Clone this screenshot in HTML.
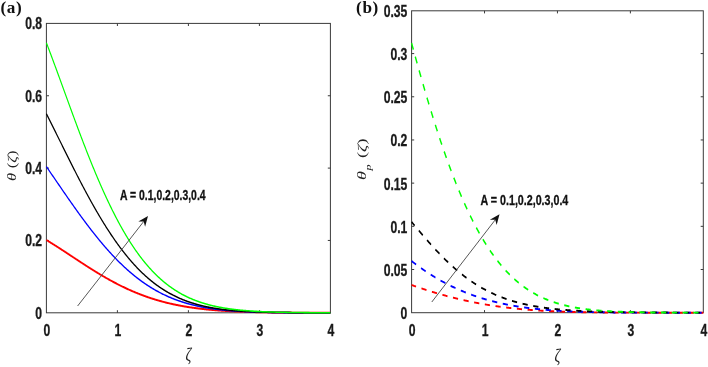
<!DOCTYPE html>
<html><head><meta charset="utf-8"><style>
html,body{margin:0;padding:0;background:#fff;}
body{width:708px;height:367px;overflow:hidden;position:relative;}
svg{position:absolute;left:0;top:0;}
.tk{font-family:"Liberation Sans",Arial,sans-serif;font-weight:bold;font-size:15.6px;fill:#1a1a1a;stroke:#1a1a1a;stroke-width:0.3px;}
.pl{font-family:"Liberation Serif","Times New Roman",serif;font-weight:bold;font-size:17.2px;letter-spacing:0.6px;fill:#111;}
.ann{font-family:"Liberation Sans",Arial,sans-serif;font-weight:bold;font-size:14.1px;fill:#111;stroke:#111;stroke-width:0.3px;}
.sym{font-family:"Liberation Serif","DejaVu Serif",serif;fill:#222;}
.zeta{font-family:"Liberation Serif","DejaVu Serif",serif;font-size:18px;fill:#222;}
</style></head><body>
<svg width="708" height="367" viewBox="0 0 708 367">
<rect width="708" height="367" fill="#fff"/>
<!-- panel a -->
<rect x="46.4" y="23.4" width="284.00" height="289.40" fill="none" stroke="#3a3a3a" stroke-width="1"/>
<path d="M117.40,312.8 v-2.6 M117.40,23.4 v2.6 M188.40,312.8 v-2.6 M188.40,23.4 v2.6 M259.40,312.8 v-2.6 M259.40,23.4 v2.6 M46.4,240.45 h2.6 M330.4,240.45 h-2.6 M46.4,168.10 h2.6 M330.4,168.10 h-2.6 M46.4,95.75 h2.6 M330.4,95.75 h-2.6" stroke="#3a3a3a" stroke-width="1" fill="none"/>
<g transform="translate(46.4,0) scale(0.735,1) translate(-46.4,0)" fill="none" stroke-linejoin="round" stroke-linecap="butt" stroke-width="1.55">
<path d="M46.40,240.06 L47.08,240.36 L47.76,240.66 L48.44,240.96 L49.12,241.26 L49.80,241.57 L50.48,241.87 L51.16,242.18 L51.84,242.49 L52.52,242.80 L53.20,243.11 L53.88,243.42 L54.56,243.73 L55.24,244.04 L55.92,244.35 L56.60,244.67 L57.28,244.98 L57.96,245.30 L58.64,245.62 L59.33,245.94 L60.01,246.25 L60.69,246.57 L61.37,246.89 L62.05,247.22 L62.73,247.54 L63.41,247.86 L64.09,248.18 L64.77,248.51 L65.45,248.83 L66.13,249.15 L66.81,249.48 L67.49,249.81 L68.17,250.13 L68.85,250.46 L69.53,250.79 L70.21,251.11 L70.89,251.44 L71.57,251.77 L72.25,252.10 L72.93,252.43 L73.61,252.76 L74.29,253.08 L74.97,253.41 L75.65,253.74 L76.33,254.07 L77.01,254.40 L77.69,254.73 L78.37,255.07 L79.05,255.40 L79.73,255.73 L80.41,256.06 L81.09,256.39 L81.77,256.72 L82.45,257.05 L83.13,257.38 L83.81,257.71 L84.50,258.04 L85.18,258.37 L85.86,258.70 L86.54,259.03 L87.22,259.36 L87.90,259.69 L88.58,260.02 L89.26,260.35 L89.94,260.68 L90.62,261.01 L91.30,261.33 L91.98,261.66 L92.66,261.99 L93.34,262.32 L94.02,262.64 L94.70,262.97 L95.38,263.30 L96.06,263.62 L96.74,263.95 L97.42,264.27 L98.10,264.59 L98.78,264.92 L99.46,265.24 L100.14,265.56 L100.82,265.89 L101.50,266.21 L102.18,266.53 L102.86,266.85 L103.54,267.17 L104.22,267.49 L104.90,267.80 L105.58,268.12 L106.26,268.44 L106.94,268.75 L107.62,269.07 L108.30,269.38 L108.99,269.70 L109.67,270.01 L110.35,270.32 L111.03,270.63 L111.71,270.94 L112.39,271.25 L113.07,271.56 L113.75,271.87 L114.43,272.17 L115.11,272.48 L115.79,272.78 L116.47,273.09 L117.15,273.39 L117.83,273.69 L118.51,273.99 L119.19,274.29 L119.87,274.59 L120.55,274.89 L121.23,275.19 L121.91,275.48 L122.59,275.78 L123.27,276.07 L123.95,276.36 L124.63,276.65 L125.31,276.94 L125.99,277.23 L126.67,277.52 L127.35,277.81 L128.03,278.09 L128.71,278.38 L129.39,278.66 L130.07,278.94 L130.75,279.22 L131.43,279.50 L132.11,279.78 L132.79,280.06 L133.47,280.34 L134.16,280.61 L134.84,280.89 L135.52,281.16 L136.20,281.43 L136.88,281.70 L137.56,281.97 L138.24,282.23 L138.92,282.50 L139.60,282.77 L140.28,283.03 L140.96,283.29 L141.64,283.55 L142.32,283.81 L143.00,284.07 L143.68,284.33 L144.36,284.58 L145.04,284.84 L145.72,285.09 L146.40,285.34 L147.08,285.59 L147.76,285.84 L148.44,286.09 L149.12,286.33 L149.80,286.58 L150.48,286.82 L151.16,287.06 L151.84,287.30 L152.52,287.54 L153.20,287.78 L153.88,288.02 L154.56,288.25 L155.24,288.48 L155.92,288.72 L156.60,288.95 L157.28,289.18 L157.96,289.40 L158.64,289.63 L159.33,289.85 L160.01,290.08 L160.69,290.30 L161.37,290.52 L162.05,290.74 L162.73,290.96 L163.41,291.17 L164.09,291.39 L164.77,291.60 L165.45,291.82 L166.13,292.03 L166.81,292.24 L167.49,292.44 L168.17,292.65 L168.85,292.86 L169.53,293.06 L170.21,293.26 L170.89,293.46 L171.57,293.66 L172.25,293.86 L172.93,294.06 L173.61,294.25 L174.29,294.44 L174.97,294.64 L175.65,294.83 L176.33,295.02 L177.01,295.21 L177.69,295.39 L178.37,295.58 L179.05,295.76 L179.73,295.94 L180.41,296.13 L181.09,296.31 L181.77,296.48 L182.45,296.66 L183.13,296.84 L183.81,297.01 L184.50,297.18 L185.18,297.35 L185.86,297.52 L186.54,297.69 L187.22,297.86 L187.90,298.03 L188.58,298.19 L189.26,298.35 L189.94,298.52 L190.62,298.68 L191.30,298.84 L191.98,298.99 L192.66,299.15 L193.34,299.31 L194.02,299.46 L194.70,299.61 L195.38,299.76 L196.06,299.91 L196.74,300.06 L197.42,300.21 L198.10,300.36 L198.78,300.50 L199.46,300.64 L200.14,300.79 L200.82,300.93 L201.50,301.07 L202.18,301.21 L202.86,301.34 L203.54,301.48 L204.22,301.61 L204.90,301.75 L205.58,301.88 L206.26,302.01 L206.94,302.14 L207.62,302.27 L208.30,302.40 L208.99,302.52 L209.67,302.65 L210.35,302.77 L211.03,302.90 L211.71,303.02 L212.39,303.14 L213.07,303.26 L213.75,303.37 L214.43,303.49 L215.11,303.61 L215.79,303.72 L216.47,303.83 L217.15,303.95 L217.83,304.06 L218.51,304.17 L219.19,304.28 L219.87,304.39 L220.55,304.49 L221.23,304.60 L221.91,304.70 L222.59,304.81 L223.27,304.91 L223.95,305.01 L224.63,305.11 L225.31,305.21 L225.99,305.31 L226.67,305.41 L227.35,305.50 L228.03,305.60 L228.71,305.69 L229.39,305.79 L230.07,305.88 L230.75,305.97 L231.43,306.06 L232.11,306.15 L232.79,306.24 L233.47,306.32 L234.16,306.41 L234.84,306.50 L235.52,306.58 L236.20,306.66 L236.88,306.75 L237.56,306.83 L238.24,306.91 L238.92,306.99 L239.60,307.07 L240.28,307.15 L240.96,307.23 L241.64,307.30 L242.32,307.38 L243.00,307.45 L243.68,307.53 L244.36,307.60 L245.04,307.67 L245.72,307.74 L246.40,307.81 L247.08,307.88 L247.76,307.95 L248.44,308.02 L249.12,308.09 L249.80,308.15 L250.48,308.22 L251.16,308.28 L251.84,308.35 L252.52,308.41 L253.20,308.47 L253.88,308.54 L254.56,308.60 L255.24,308.66 L255.92,308.72 L256.60,308.78 L257.28,308.83 L257.96,308.89 L258.64,308.95 L259.33,309.01 L260.01,309.06 L260.69,309.12 L261.37,309.17 L262.05,309.22 L262.73,309.28 L263.41,309.33 L264.09,309.38 L264.77,309.43 L265.45,309.48 L266.13,309.53 L266.81,309.58 L267.49,309.63 L268.17,309.67 L268.85,309.72 L269.53,309.77 L270.21,309.81 L270.89,309.86 L271.57,309.90 L272.25,309.95 L272.93,309.99 L273.61,310.03 L274.29,310.08 L274.97,310.12 L275.65,310.16 L276.33,310.20 L277.01,310.24 L277.69,310.28 L278.37,310.32 L279.05,310.36 L279.73,310.39 L280.41,310.43 L281.09,310.47 L281.77,310.50 L282.45,310.54 L283.13,310.58 L283.81,310.61 L284.50,310.65 L285.18,310.68 L285.86,310.71 L286.54,310.75 L287.22,310.78 L287.90,310.81 L288.58,310.84 L289.26,310.87 L289.94,310.91 L290.62,310.94 L291.30,310.97 L291.98,311.00 L292.66,311.02 L293.34,311.05 L294.02,311.08 L294.70,311.11 L295.38,311.14 L296.06,311.16 L296.74,311.19 L297.42,311.22 L298.10,311.24 L298.78,311.27 L299.46,311.29 L300.14,311.32 L300.82,311.34 L301.50,311.37 L302.18,311.39 L302.86,311.41 L303.54,311.44 L304.22,311.46 L304.90,311.48 L305.58,311.51 L306.26,311.53 L306.94,311.55 L307.62,311.57 L308.30,311.59 L308.99,311.61 L309.67,311.63 L310.35,311.65 L311.03,311.67 L311.71,311.69 L312.39,311.71 L313.07,311.73 L313.75,311.75 L314.43,311.76 L315.11,311.78 L315.79,311.80 L316.47,311.82 L317.15,311.83 L317.83,311.85 L318.51,311.87 L321.23,311.93 L323.95,311.99 L326.67,312.05 L329.39,312.10 L332.11,312.15 L334.84,312.19 L337.56,312.24 L340.28,312.28 L343.00,312.31 L345.72,312.35 L348.44,312.38 L351.16,312.41 L353.88,312.44 L356.60,312.47 L359.33,312.49 L362.05,312.52 L364.77,312.54 L367.49,312.56 L370.21,312.58 L372.93,312.59 L375.65,312.61 L378.37,312.62 L381.09,312.64 L383.81,312.65 L386.54,312.66 L389.26,312.67 L391.98,312.68 L394.70,312.69 L397.42,312.70 L400.14,312.71 L402.86,312.72 L405.58,312.72 L408.30,312.73 L411.03,312.74 L413.75,312.74 L416.47,312.75 L419.19,312.75 L421.91,312.76 L424.63,312.76 L427.35,312.76 L430.07,312.77 L432.79,312.77" stroke="#ff0000" stroke-width="2.0"/>
<path d="M46.40,166.63 L47.08,167.36 L47.76,168.08 L48.44,168.81 L49.12,169.54 L49.80,170.27 L50.48,171.00 L51.16,171.72 L51.84,172.45 L52.52,173.18 L53.20,173.91 L53.88,174.65 L54.56,175.38 L55.24,176.11 L55.92,176.84 L56.60,177.57 L57.28,178.30 L57.96,179.03 L58.64,179.76 L59.33,180.50 L60.01,181.23 L60.69,181.96 L61.37,182.69 L62.05,183.42 L62.73,184.15 L63.41,184.88 L64.09,185.61 L64.77,186.34 L65.45,187.07 L66.13,187.80 L66.81,188.53 L67.49,189.25 L68.17,189.98 L68.85,190.71 L69.53,191.44 L70.21,192.16 L70.89,192.89 L71.57,193.61 L72.25,194.33 L72.93,195.06 L73.61,195.78 L74.29,196.50 L74.97,197.22 L75.65,197.94 L76.33,198.66 L77.01,199.38 L77.69,200.10 L78.37,200.81 L79.05,201.53 L79.73,202.24 L80.41,202.95 L81.09,203.66 L81.77,204.37 L82.45,205.08 L83.13,205.79 L83.81,206.50 L84.50,207.20 L85.18,207.91 L85.86,208.61 L86.54,209.31 L87.22,210.01 L87.90,210.71 L88.58,211.41 L89.26,212.10 L89.94,212.80 L90.62,213.49 L91.30,214.18 L91.98,214.87 L92.66,215.56 L93.34,216.24 L94.02,216.93 L94.70,217.61 L95.38,218.29 L96.06,218.97 L96.74,219.65 L97.42,220.32 L98.10,220.99 L98.78,221.67 L99.46,222.34 L100.14,223.00 L100.82,223.67 L101.50,224.33 L102.18,224.99 L102.86,225.65 L103.54,226.31 L104.22,226.97 L104.90,227.62 L105.58,228.27 L106.26,228.92 L106.94,229.57 L107.62,230.21 L108.30,230.86 L108.99,231.50 L109.67,232.13 L110.35,232.77 L111.03,233.40 L111.71,234.03 L112.39,234.66 L113.07,235.29 L113.75,235.91 L114.43,236.54 L115.11,237.15 L115.79,237.77 L116.47,238.39 L117.15,239.00 L117.83,239.61 L118.51,240.21 L119.19,240.82 L119.87,241.42 L120.55,242.02 L121.23,242.62 L121.91,243.21 L122.59,243.80 L123.27,244.39 L123.95,244.98 L124.63,245.56 L125.31,246.14 L125.99,246.72 L126.67,247.29 L127.35,247.87 L128.03,248.44 L128.71,249.00 L129.39,249.57 L130.07,250.13 L130.75,250.69 L131.43,251.25 L132.11,251.80 L132.79,252.35 L133.47,252.90 L134.16,253.44 L134.84,253.99 L135.52,254.52 L136.20,255.06 L136.88,255.59 L137.56,256.13 L138.24,256.65 L138.92,257.18 L139.60,257.70 L140.28,258.22 L140.96,258.74 L141.64,259.25 L142.32,259.76 L143.00,260.27 L143.68,260.77 L144.36,261.27 L145.04,261.77 L145.72,262.27 L146.40,262.76 L147.08,263.25 L147.76,263.74 L148.44,264.22 L149.12,264.70 L149.80,265.18 L150.48,265.65 L151.16,266.12 L151.84,266.59 L152.52,267.06 L153.20,267.52 L153.88,267.98 L154.56,268.44 L155.24,268.89 L155.92,269.34 L156.60,269.79 L157.28,270.24 L157.96,270.68 L158.64,271.12 L159.33,271.55 L160.01,271.98 L160.69,272.41 L161.37,272.84 L162.05,273.26 L162.73,273.69 L163.41,274.10 L164.09,274.52 L164.77,274.93 L165.45,275.34 L166.13,275.74 L166.81,276.15 L167.49,276.55 L168.17,276.94 L168.85,277.34 L169.53,277.73 L170.21,278.12 L170.89,278.50 L171.57,278.88 L172.25,279.26 L172.93,279.64 L173.61,280.01 L174.29,280.38 L174.97,280.75 L175.65,281.12 L176.33,281.48 L177.01,281.84 L177.69,282.19 L178.37,282.54 L179.05,282.89 L179.73,283.24 L180.41,283.59 L181.09,283.93 L181.77,284.27 L182.45,284.60 L183.13,284.93 L183.81,285.26 L184.50,285.59 L185.18,285.92 L185.86,286.24 L186.54,286.56 L187.22,286.87 L187.90,287.19 L188.58,287.50 L189.26,287.80 L189.94,288.11 L190.62,288.41 L191.30,288.71 L191.98,289.01 L192.66,289.30 L193.34,289.59 L194.02,289.88 L194.70,290.17 L195.38,290.45 L196.06,290.73 L196.74,291.01 L197.42,291.29 L198.10,291.56 L198.78,291.83 L199.46,292.10 L200.14,292.36 L200.82,292.62 L201.50,292.88 L202.18,293.14 L202.86,293.40 L203.54,293.65 L204.22,293.90 L204.90,294.15 L205.58,294.39 L206.26,294.64 L206.94,294.88 L207.62,295.11 L208.30,295.35 L208.99,295.58 L209.67,295.81 L210.35,296.04 L211.03,296.27 L211.71,296.49 L212.39,296.71 L213.07,296.93 L213.75,297.15 L214.43,297.36 L215.11,297.57 L215.79,297.78 L216.47,297.99 L217.15,298.19 L217.83,298.40 L218.51,298.60 L219.19,298.80 L219.87,298.99 L220.55,299.19 L221.23,299.38 L221.91,299.57 L222.59,299.75 L223.27,299.94 L223.95,300.12 L224.63,300.31 L225.31,300.48 L225.99,300.66 L226.67,300.84 L227.35,301.01 L228.03,301.18 L228.71,301.35 L229.39,301.52 L230.07,301.68 L230.75,301.85 L231.43,302.01 L232.11,302.17 L232.79,302.33 L233.47,302.48 L234.16,302.64 L234.84,302.79 L235.52,302.94 L236.20,303.09 L236.88,303.23 L237.56,303.38 L238.24,303.52 L238.92,303.66 L239.60,303.80 L240.28,303.94 L240.96,304.08 L241.64,304.21 L242.32,304.34 L243.00,304.47 L243.68,304.60 L244.36,304.73 L245.04,304.86 L245.72,304.98 L246.40,305.10 L247.08,305.22 L247.76,305.34 L248.44,305.46 L249.12,305.58 L249.80,305.69 L250.48,305.81 L251.16,305.92 L251.84,306.03 L252.52,306.14 L253.20,306.25 L253.88,306.35 L254.56,306.46 L255.24,306.56 L255.92,306.66 L256.60,306.76 L257.28,306.86 L257.96,306.96 L258.64,307.06 L259.33,307.15 L260.01,307.25 L260.69,307.34 L261.37,307.43 L262.05,307.52 L262.73,307.61 L263.41,307.70 L264.09,307.78 L264.77,307.87 L265.45,307.95 L266.13,308.03 L266.81,308.11 L267.49,308.19 L268.17,308.27 L268.85,308.35 L269.53,308.43 L270.21,308.50 L270.89,308.58 L271.57,308.65 L272.25,308.72 L272.93,308.79 L273.61,308.87 L274.29,308.93 L274.97,309.00 L275.65,309.07 L276.33,309.14 L277.01,309.20 L277.69,309.26 L278.37,309.33 L279.05,309.39 L279.73,309.45 L280.41,309.51 L281.09,309.57 L281.77,309.63 L282.45,309.69 L283.13,309.74 L283.81,309.80 L284.50,309.85 L285.18,309.91 L285.86,309.96 L286.54,310.01 L287.22,310.06 L287.90,310.12 L288.58,310.17 L289.26,310.21 L289.94,310.26 L290.62,310.31 L291.30,310.36 L291.98,310.40 L292.66,310.45 L293.34,310.49 L294.02,310.54 L294.70,310.58 L295.38,310.62 L296.06,310.66 L296.74,310.70 L297.42,310.74 L298.10,310.78 L298.78,310.82 L299.46,310.86 L300.14,310.90 L300.82,310.93 L301.50,310.97 L302.18,311.01 L302.86,311.04 L303.54,311.08 L304.22,311.11 L304.90,311.14 L305.58,311.18 L306.26,311.21 L306.94,311.24 L307.62,311.27 L308.30,311.30 L308.99,311.33 L309.67,311.36 L310.35,311.39 L311.03,311.42 L311.71,311.45 L312.39,311.47 L313.07,311.50 L313.75,311.53 L314.43,311.55 L315.11,311.58 L315.79,311.60 L316.47,311.63 L317.15,311.65 L317.83,311.68 L318.51,311.70 L321.23,311.79 L323.95,311.87 L326.67,311.95 L329.39,312.02 L332.11,312.08 L334.84,312.14 L337.56,312.20 L340.28,312.25 L343.00,312.30 L345.72,312.34 L348.44,312.38 L351.16,312.42 L353.88,312.45 L356.60,312.49 L359.33,312.51 L362.05,312.54 L364.77,312.57 L367.49,312.59 L370.21,312.61 L372.93,312.63 L375.65,312.64 L378.37,312.66 L381.09,312.67 L383.81,312.68 L386.54,312.70 L389.26,312.71 L391.98,312.72 L394.70,312.72 L397.42,312.73 L400.14,312.74 L402.86,312.75 L405.58,312.75 L408.30,312.76 L411.03,312.76 L413.75,312.77 L416.47,312.77 L419.19,312.77 L421.91,312.78 L424.63,312.78 L427.35,312.78 L430.07,312.78 L432.79,312.78" stroke="#0000ff"/>
<path d="M46.40,113.79 L47.08,114.78 L47.76,115.77 L48.44,116.77 L49.12,117.76 L49.80,118.76 L50.48,119.75 L51.16,120.75 L51.84,121.75 L52.52,122.75 L53.20,123.75 L53.88,124.76 L54.56,125.76 L55.24,126.77 L55.92,127.77 L56.60,128.78 L57.28,129.79 L57.96,130.79 L58.64,131.80 L59.33,132.81 L60.01,133.82 L60.69,134.83 L61.37,135.84 L62.05,136.85 L62.73,137.86 L63.41,138.87 L64.09,139.88 L64.77,140.90 L65.45,141.91 L66.13,142.92 L66.81,143.93 L67.49,144.94 L68.17,145.95 L68.85,146.96 L69.53,147.97 L70.21,148.98 L70.89,149.99 L71.57,150.99 L72.25,152.00 L72.93,153.01 L73.61,154.01 L74.29,155.02 L74.97,156.02 L75.65,157.02 L76.33,158.03 L77.01,159.03 L77.69,160.03 L78.37,161.02 L79.05,162.02 L79.73,163.02 L80.41,164.01 L81.09,165.01 L81.77,166.00 L82.45,166.99 L83.13,167.98 L83.81,168.96 L84.50,169.95 L85.18,170.93 L85.86,171.91 L86.54,172.89 L87.22,173.87 L87.90,174.85 L88.58,175.82 L89.26,176.80 L89.94,177.77 L90.62,178.73 L91.30,179.70 L91.98,180.66 L92.66,181.62 L93.34,182.58 L94.02,183.54 L94.70,184.49 L95.38,185.44 L96.06,186.39 L96.74,187.34 L97.42,188.28 L98.10,189.22 L98.78,190.16 L99.46,191.10 L100.14,192.03 L100.82,192.96 L101.50,193.89 L102.18,194.81 L102.86,195.74 L103.54,196.65 L104.22,197.57 L104.90,198.48 L105.58,199.39 L106.26,200.30 L106.94,201.20 L107.62,202.10 L108.30,203.00 L108.99,203.89 L109.67,204.78 L110.35,205.67 L111.03,206.55 L111.71,207.43 L112.39,208.31 L113.07,209.18 L113.75,210.05 L114.43,210.91 L115.11,211.78 L115.79,212.63 L116.47,213.49 L117.15,214.34 L117.83,215.19 L118.51,216.03 L119.19,216.87 L119.87,217.71 L120.55,218.54 L121.23,219.37 L121.91,220.20 L122.59,221.02 L123.27,221.83 L123.95,222.65 L124.63,223.46 L125.31,224.26 L125.99,225.06 L126.67,225.86 L127.35,226.65 L128.03,227.44 L128.71,228.23 L129.39,229.01 L130.07,229.79 L130.75,230.56 L131.43,231.33 L132.11,232.09 L132.79,232.86 L133.47,233.61 L134.16,234.36 L134.84,235.11 L135.52,235.86 L136.20,236.60 L136.88,237.33 L137.56,238.06 L138.24,238.79 L138.92,239.51 L139.60,240.23 L140.28,240.94 L140.96,241.65 L141.64,242.36 L142.32,243.06 L143.00,243.76 L143.68,244.45 L144.36,245.14 L145.04,245.82 L145.72,246.50 L146.40,247.18 L147.08,247.85 L147.76,248.51 L148.44,249.17 L149.12,249.83 L149.80,250.48 L150.48,251.13 L151.16,251.78 L151.84,252.42 L152.52,253.05 L153.20,253.68 L153.88,254.31 L154.56,254.93 L155.24,255.55 L155.92,256.16 L156.60,256.77 L157.28,257.38 L157.96,257.98 L158.64,258.57 L159.33,259.17 L160.01,259.75 L160.69,260.34 L161.37,260.91 L162.05,261.49 L162.73,262.06 L163.41,262.62 L164.09,263.18 L164.77,263.74 L165.45,264.29 L166.13,264.84 L166.81,265.39 L167.49,265.93 L168.17,266.46 L168.85,266.99 L169.53,267.52 L170.21,268.04 L170.89,268.56 L171.57,269.07 L172.25,269.58 L172.93,270.09 L173.61,270.59 L174.29,271.08 L174.97,271.58 L175.65,272.07 L176.33,272.55 L177.01,273.03 L177.69,273.51 L178.37,273.98 L179.05,274.45 L179.73,274.91 L180.41,275.37 L181.09,275.82 L181.77,276.28 L182.45,276.72 L183.13,277.17 L183.81,277.60 L184.50,278.04 L185.18,278.47 L185.86,278.90 L186.54,279.32 L187.22,279.74 L187.90,280.16 L188.58,280.57 L189.26,280.98 L189.94,281.38 L190.62,281.78 L191.30,282.17 L191.98,282.57 L192.66,282.96 L193.34,283.34 L194.02,283.72 L194.70,284.10 L195.38,284.47 L196.06,284.84 L196.74,285.21 L197.42,285.57 L198.10,285.93 L198.78,286.28 L199.46,286.63 L200.14,286.98 L200.82,287.33 L201.50,287.67 L202.18,288.00 L202.86,288.34 L203.54,288.67 L204.22,288.99 L204.90,289.32 L205.58,289.64 L206.26,289.95 L206.94,290.27 L207.62,290.58 L208.30,290.88 L208.99,291.19 L209.67,291.49 L210.35,291.78 L211.03,292.08 L211.71,292.36 L212.39,292.65 L213.07,292.94 L213.75,293.22 L214.43,293.49 L215.11,293.77 L215.79,294.04 L216.47,294.31 L217.15,294.57 L217.83,294.83 L218.51,295.09 L219.19,295.35 L219.87,295.60 L220.55,295.85 L221.23,296.10 L221.91,296.34 L222.59,296.58 L223.27,296.82 L223.95,297.06 L224.63,297.29 L225.31,297.52 L225.99,297.75 L226.67,297.97 L227.35,298.19 L228.03,298.41 L228.71,298.63 L229.39,298.84 L230.07,299.05 L230.75,299.26 L231.43,299.47 L232.11,299.67 L232.79,299.87 L233.47,300.07 L234.16,300.26 L234.84,300.46 L235.52,300.65 L236.20,300.84 L236.88,301.02 L237.56,301.20 L238.24,301.39 L238.92,301.56 L239.60,301.74 L240.28,301.91 L240.96,302.09 L241.64,302.26 L242.32,302.42 L243.00,302.59 L243.68,302.75 L244.36,302.91 L245.04,303.07 L245.72,303.23 L246.40,303.38 L247.08,303.53 L247.76,303.69 L248.44,303.83 L249.12,303.98 L249.80,304.12 L250.48,304.27 L251.16,304.41 L251.84,304.54 L252.52,304.68 L253.20,304.82 L253.88,304.95 L254.56,305.08 L255.24,305.21 L255.92,305.33 L256.60,305.46 L257.28,305.58 L257.96,305.71 L258.64,305.83 L259.33,305.94 L260.01,306.06 L260.69,306.17 L261.37,306.29 L262.05,306.40 L262.73,306.51 L263.41,306.62 L264.09,306.72 L264.77,306.83 L265.45,306.93 L266.13,307.04 L266.81,307.14 L267.49,307.23 L268.17,307.33 L268.85,307.43 L269.53,307.52 L270.21,307.62 L270.89,307.71 L271.57,307.80 L272.25,307.89 L272.93,307.97 L273.61,308.06 L274.29,308.15 L274.97,308.23 L275.65,308.31 L276.33,308.39 L277.01,308.47 L277.69,308.55 L278.37,308.63 L279.05,308.70 L279.73,308.78 L280.41,308.85 L281.09,308.93 L281.77,309.00 L282.45,309.07 L283.13,309.14 L283.81,309.20 L284.50,309.27 L285.18,309.34 L285.86,309.40 L286.54,309.46 L287.22,309.53 L287.90,309.59 L288.58,309.65 L289.26,309.71 L289.94,309.77 L290.62,309.83 L291.30,309.88 L291.98,309.94 L292.66,309.99 L293.34,310.05 L294.02,310.10 L294.70,310.15 L295.38,310.20 L296.06,310.25 L296.74,310.30 L297.42,310.35 L298.10,310.40 L298.78,310.44 L299.46,310.49 L300.14,310.54 L300.82,310.58 L301.50,310.62 L302.18,310.67 L302.86,310.71 L303.54,310.75 L304.22,310.79 L304.90,310.83 L305.58,310.87 L306.26,310.91 L306.94,310.95 L307.62,310.99 L308.30,311.02 L308.99,311.06 L309.67,311.09 L310.35,311.13 L311.03,311.16 L311.71,311.20 L312.39,311.23 L313.07,311.26 L313.75,311.29 L314.43,311.32 L315.11,311.35 L315.79,311.38 L316.47,311.41 L317.15,311.44 L317.83,311.47 L318.51,311.50 L321.23,311.60 L323.95,311.70 L326.67,311.79 L329.39,311.88 L332.11,311.95 L334.84,312.03 L337.56,312.09 L340.28,312.15 L343.00,312.21 L345.72,312.26 L348.44,312.31 L351.16,312.35 L353.88,312.39 L356.60,312.43 L359.33,312.46 L362.05,312.49 L364.77,312.52 L367.49,312.55 L370.21,312.57 L372.93,312.59 L375.65,312.61 L378.37,312.63 L381.09,312.65 L383.81,312.66 L386.54,312.68 L389.26,312.69 L391.98,312.70 L394.70,312.71 L397.42,312.72 L400.14,312.73 L402.86,312.73 L405.58,312.74 L408.30,312.75 L411.03,312.75 L413.75,312.76 L416.47,312.76 L419.19,312.77 L421.91,312.77 L424.63,312.77 L427.35,312.78 L430.07,312.78 L432.79,312.78" stroke="#000"/>
<path d="M46.40,42.80 L47.08,44.11 L47.76,45.42 L48.44,46.74 L49.12,48.05 L49.80,49.38 L50.48,50.70 L51.16,52.03 L51.84,53.37 L52.52,54.70 L53.20,56.04 L53.88,57.38 L54.56,58.73 L55.24,60.08 L55.92,61.43 L56.60,62.78 L57.28,64.13 L57.96,65.49 L58.64,66.85 L59.33,68.21 L60.01,69.57 L60.69,70.94 L61.37,72.30 L62.05,73.67 L62.73,75.04 L63.41,76.41 L64.09,77.78 L64.77,79.15 L65.45,80.53 L66.13,81.90 L66.81,83.27 L67.49,84.65 L68.17,86.02 L68.85,87.40 L69.53,88.77 L70.21,90.15 L70.89,91.53 L71.57,92.90 L72.25,94.28 L72.93,95.65 L73.61,97.03 L74.29,98.40 L74.97,99.77 L75.65,101.15 L76.33,102.52 L77.01,103.89 L77.69,105.26 L78.37,106.63 L79.05,107.99 L79.73,109.36 L80.41,110.72 L81.09,112.09 L81.77,113.45 L82.45,114.81 L83.13,116.16 L83.81,117.52 L84.50,118.87 L85.18,120.23 L85.86,121.58 L86.54,122.92 L87.22,124.27 L87.90,125.61 L88.58,126.95 L89.26,128.29 L89.94,129.62 L90.62,130.95 L91.30,132.28 L91.98,133.61 L92.66,134.93 L93.34,136.25 L94.02,137.56 L94.70,138.88 L95.38,140.19 L96.06,141.49 L96.74,142.79 L97.42,144.09 L98.10,145.39 L98.78,146.68 L99.46,147.97 L100.14,149.25 L100.82,150.53 L101.50,151.81 L102.18,153.08 L102.86,154.35 L103.54,155.61 L104.22,156.87 L104.90,158.12 L105.58,159.38 L106.26,160.62 L106.94,161.86 L107.62,163.10 L108.30,164.33 L108.99,165.56 L109.67,166.78 L110.35,168.00 L111.03,169.21 L111.71,170.42 L112.39,171.63 L113.07,172.82 L113.75,174.02 L114.43,175.21 L115.11,176.39 L115.79,177.57 L116.47,178.74 L117.15,179.91 L117.83,181.07 L118.51,182.23 L119.19,183.38 L119.87,184.53 L120.55,185.67 L121.23,186.80 L121.91,187.93 L122.59,189.05 L123.27,190.17 L123.95,191.29 L124.63,192.39 L125.31,193.49 L125.99,194.59 L126.67,195.68 L127.35,196.76 L128.03,197.84 L128.71,198.91 L129.39,199.98 L130.07,201.04 L130.75,202.10 L131.43,203.15 L132.11,204.19 L132.79,205.23 L133.47,206.26 L134.16,207.28 L134.84,208.30 L135.52,209.31 L136.20,210.32 L136.88,211.32 L137.56,212.31 L138.24,213.30 L138.92,214.28 L139.60,215.26 L140.28,216.23 L140.96,217.19 L141.64,218.15 L142.32,219.10 L143.00,220.05 L143.68,220.99 L144.36,221.92 L145.04,222.85 L145.72,223.77 L146.40,224.68 L147.08,225.59 L147.76,226.49 L148.44,227.39 L149.12,228.27 L149.80,229.16 L150.48,230.03 L151.16,230.90 L151.84,231.77 L152.52,232.63 L153.20,233.48 L153.88,234.32 L154.56,235.16 L155.24,236.00 L155.92,236.82 L156.60,237.64 L157.28,238.46 L157.96,239.27 L158.64,240.07 L159.33,240.86 L160.01,241.65 L160.69,242.44 L161.37,243.22 L162.05,243.99 L162.73,244.75 L163.41,245.51 L164.09,246.26 L164.77,247.01 L165.45,247.75 L166.13,248.49 L166.81,249.22 L167.49,249.94 L168.17,250.66 L168.85,251.37 L169.53,252.07 L170.21,252.77 L170.89,253.46 L171.57,254.15 L172.25,254.83 L172.93,255.51 L173.61,256.18 L174.29,256.84 L174.97,257.50 L175.65,258.15 L176.33,258.80 L177.01,259.44 L177.69,260.07 L178.37,260.70 L179.05,261.32 L179.73,261.94 L180.41,262.55 L181.09,263.16 L181.77,263.76 L182.45,264.36 L183.13,264.95 L183.81,265.53 L184.50,266.11 L185.18,266.68 L185.86,267.25 L186.54,267.81 L187.22,268.37 L187.90,268.92 L188.58,269.47 L189.26,270.01 L189.94,270.55 L190.62,271.08 L191.30,271.60 L191.98,272.12 L192.66,272.64 L193.34,273.15 L194.02,273.65 L194.70,274.15 L195.38,274.65 L196.06,275.14 L196.74,275.62 L197.42,276.10 L198.10,276.57 L198.78,277.04 L199.46,277.51 L200.14,277.97 L200.82,278.42 L201.50,278.88 L202.18,279.32 L202.86,279.76 L203.54,280.20 L204.22,280.63 L204.90,281.06 L205.58,281.48 L206.26,281.90 L206.94,282.31 L207.62,282.72 L208.30,283.13 L208.99,283.53 L209.67,283.92 L210.35,284.31 L211.03,284.70 L211.71,285.08 L212.39,285.46 L213.07,285.84 L213.75,286.21 L214.43,286.57 L215.11,286.93 L215.79,287.29 L216.47,287.64 L217.15,287.99 L217.83,288.34 L218.51,288.68 L219.19,289.02 L219.87,289.35 L220.55,289.68 L221.23,290.01 L221.91,290.33 L222.59,290.65 L223.27,290.96 L223.95,291.27 L224.63,291.58 L225.31,291.88 L225.99,292.18 L226.67,292.48 L227.35,292.77 L228.03,293.06 L228.71,293.35 L229.39,293.63 L230.07,293.91 L230.75,294.18 L231.43,294.46 L232.11,294.72 L232.79,294.99 L233.47,295.25 L234.16,295.51 L234.84,295.77 L235.52,296.02 L236.20,296.27 L236.88,296.51 L237.56,296.76 L238.24,296.99 L238.92,297.23 L239.60,297.47 L240.28,297.70 L240.96,297.92 L241.64,298.15 L242.32,298.37 L243.00,298.59 L243.68,298.80 L244.36,299.02 L245.04,299.23 L245.72,299.44 L246.40,299.64 L247.08,299.84 L247.76,300.04 L248.44,300.24 L249.12,300.43 L249.80,300.63 L250.48,300.82 L251.16,301.00 L251.84,301.19 L252.52,301.37 L253.20,301.55 L253.88,301.72 L254.56,301.90 L255.24,302.07 L255.92,302.24 L256.60,302.41 L257.28,302.57 L257.96,302.73 L258.64,302.89 L259.33,303.05 L260.01,303.21 L260.69,303.36 L261.37,303.51 L262.05,303.66 L262.73,303.81 L263.41,303.96 L264.09,304.10 L264.77,304.24 L265.45,304.38 L266.13,304.52 L266.81,304.65 L267.49,304.79 L268.17,304.92 L268.85,305.05 L269.53,305.17 L270.21,305.30 L270.89,305.42 L271.57,305.55 L272.25,305.67 L272.93,305.78 L273.61,305.90 L274.29,306.02 L274.97,306.13 L275.65,306.24 L276.33,306.35 L277.01,306.46 L277.69,306.57 L278.37,306.67 L279.05,306.78 L279.73,306.88 L280.41,306.98 L281.09,307.08 L281.77,307.17 L282.45,307.27 L283.13,307.37 L283.81,307.46 L284.50,307.55 L285.18,307.64 L285.86,307.73 L286.54,307.82 L287.22,307.90 L287.90,307.99 L288.58,308.07 L289.26,308.15 L289.94,308.23 L290.62,308.31 L291.30,308.39 L291.98,308.47 L292.66,308.55 L293.34,308.62 L294.02,308.69 L294.70,308.77 L295.38,308.84 L296.06,308.91 L296.74,308.98 L297.42,309.05 L298.10,309.11 L298.78,309.18 L299.46,309.24 L300.14,309.31 L300.82,309.37 L301.50,309.43 L302.18,309.49 L302.86,309.55 L303.54,309.61 L304.22,309.67 L304.90,309.72 L305.58,309.78 L306.26,309.84 L306.94,309.89 L307.62,309.94 L308.30,309.99 L308.99,310.05 L309.67,310.10 L310.35,310.15 L311.03,310.19 L311.71,310.24 L312.39,310.29 L313.07,310.34 L313.75,310.38 L314.43,310.43 L315.11,310.47 L315.79,310.51 L316.47,310.56 L317.15,310.60 L317.83,310.64 L318.51,310.68 L321.23,310.84 L323.95,310.98 L326.67,311.12 L329.39,311.24 L332.11,311.36 L334.84,311.47 L337.56,311.57 L340.28,311.66 L343.00,311.75 L345.72,311.83 L348.44,311.91 L351.16,311.98 L353.88,312.04 L356.60,312.10 L359.33,312.16 L362.05,312.21 L364.77,312.26 L367.49,312.30 L370.21,312.34 L372.93,312.38 L375.65,312.41 L378.37,312.45 L381.09,312.48 L383.81,312.50 L386.54,312.53 L389.26,312.55 L391.98,312.57 L394.70,312.59 L397.42,312.61 L400.14,312.63 L402.86,312.64 L405.58,312.65 L408.30,312.67 L411.03,312.68 L413.75,312.69 L416.47,312.70 L419.19,312.71 L421.91,312.72 L424.63,312.72 L427.35,312.73 L430.07,312.74 L432.79,312.74" stroke="#00ff00"/>
</g>
<g transform="scale(0.78,1)" class="tk"><text x="53.97" y="318.80" text-anchor="end">0</text><text x="53.97" y="246.45" text-anchor="end">0.2</text><text x="53.97" y="174.10" text-anchor="end">0.4</text><text x="53.97" y="101.75" text-anchor="end">0.6</text><text x="53.97" y="29.40" text-anchor="end">0.8</text></g>
<g transform="scale(0.78,1)" class="tk"><text x="60.13" y="336.00" text-anchor="middle">0</text><text x="151.15" y="336.00" text-anchor="middle">1</text><text x="242.18" y="336.00" text-anchor="middle">2</text><text x="333.21" y="336.00" text-anchor="middle">3</text><text x="424.23" y="336.00" text-anchor="middle">4</text></g>
<text class="pl" x="0.5" y="12.6">(a)</text>
<text class="zeta" transform="translate(188.3,361.1) scale(0.8,1)" text-anchor="middle" font-style="italic">ζ</text>
<g class="sym" font-size="16.5px"><text transform="translate(16.2,181.0) scale(0.735,1) rotate(-90)" font-style="italic">θ</text><text transform="translate(16.2,168.3) scale(0.735,1) rotate(-90)">(</text><text transform="translate(16.2,162.8) scale(0.735,1) rotate(-90)" font-style="italic">ζ</text><text transform="translate(16.2,156.1) scale(0.735,1) rotate(-90)">)</text></g>
<g transform="scale(0.757,1)"><text class="ann" style="font-size:13.75px" x="158.65" y="199.9">A = 0.1,0.2,0.3,0.4</text></g>
<path d="M77.60,306.00 L143.69,221.51" stroke="#444" stroke-width="0.9" fill="none"/><path d="M148.00,216.00 L145.10,226.68 L143.69,221.51 L138.33,221.38 Z" fill="#111"/>

<!-- panel b -->
<rect x="411.6" y="10.8" width="291.70" height="301.90" fill="none" stroke="#3a3a3a" stroke-width="1"/>
<path d="M484.52,312.7 v-2.6 M484.52,10.8 v2.6 M557.45,312.7 v-2.6 M557.45,10.8 v2.6 M630.38,312.7 v-2.6 M630.38,10.8 v2.6 M411.6,269.51 h2.6 M703.3,269.51 h-2.6 M411.6,226.33 h2.6 M703.3,226.33 h-2.6 M411.6,183.14 h2.6 M703.3,183.14 h-2.6 M411.6,139.96 h2.6 M703.3,139.96 h-2.6 M411.6,96.77 h2.6 M703.3,96.77 h-2.6 M411.6,53.59 h2.6 M703.3,53.59 h-2.6" stroke="#3a3a3a" stroke-width="1" fill="none"/>
<g transform="translate(411.6,0) scale(0.735,1) translate(-411.6,0)" fill="none" stroke-linejoin="round" stroke-width="1.9" stroke-dasharray="7.1 7.6">
<path d="M411.60,285.00 L412.28,285.18 L412.96,285.36 L413.64,285.54 L414.32,285.71 L415.00,285.89 L415.68,286.06 L416.36,286.24 L417.04,286.41 L417.72,286.59 L418.40,286.76 L419.08,286.93 L419.76,287.10 L420.44,287.27 L421.12,287.44 L421.80,287.61 L422.48,287.78 L423.16,287.95 L423.84,288.12 L424.53,288.28 L425.21,288.45 L425.89,288.62 L426.57,288.78 L427.25,288.95 L427.93,289.11 L428.61,289.27 L429.29,289.44 L429.97,289.60 L430.65,289.76 L431.33,289.92 L432.01,290.08 L432.69,290.24 L433.37,290.40 L434.05,290.56 L434.73,290.71 L435.41,290.87 L436.09,291.03 L436.77,291.18 L437.45,291.34 L438.13,291.49 L438.81,291.64 L439.49,291.80 L440.17,291.95 L440.85,292.10 L441.53,292.25 L442.21,292.40 L442.89,292.55 L443.57,292.70 L444.25,292.85 L444.93,293.00 L445.61,293.14 L446.29,293.29 L446.97,293.44 L447.65,293.58 L448.33,293.73 L449.01,293.87 L449.70,294.02 L450.38,294.16 L451.06,294.30 L451.74,294.44 L452.42,294.58 L453.10,294.72 L453.78,294.86 L454.46,295.00 L455.14,295.14 L455.82,295.28 L456.50,295.41 L457.18,295.55 L457.86,295.69 L458.54,295.82 L459.22,295.96 L459.90,296.09 L460.58,296.22 L461.26,296.36 L461.94,296.49 L462.62,296.62 L463.30,296.75 L463.98,296.88 L464.66,297.01 L465.34,297.14 L466.02,297.27 L466.70,297.39 L467.38,297.52 L468.06,297.65 L468.74,297.77 L469.42,297.90 L470.10,298.02 L470.78,298.15 L471.46,298.27 L472.14,298.39 L472.82,298.51 L473.50,298.63 L474.19,298.75 L474.87,298.87 L475.55,298.99 L476.23,299.11 L476.91,299.23 L477.59,299.35 L478.27,299.46 L478.95,299.58 L479.63,299.70 L480.31,299.81 L480.99,299.92 L481.67,300.04 L482.35,300.15 L483.03,300.26 L483.71,300.37 L484.39,300.49 L485.07,300.60 L485.75,300.71 L486.43,300.81 L487.11,300.92 L487.79,301.03 L488.47,301.14 L489.15,301.24 L489.83,301.35 L490.51,301.46 L491.19,301.56 L491.87,301.66 L492.55,301.77 L493.23,301.87 L493.91,301.97 L494.59,302.07 L495.27,302.18 L495.95,302.28 L496.63,302.38 L497.31,302.47 L497.99,302.57 L498.67,302.67 L499.36,302.77 L500.04,302.86 L500.72,302.96 L501.40,303.06 L502.08,303.15 L502.76,303.25 L503.44,303.34 L504.12,303.43 L504.80,303.52 L505.48,303.62 L506.16,303.71 L506.84,303.80 L507.52,303.89 L508.20,303.98 L508.88,304.06 L509.56,304.15 L510.24,304.24 L510.92,304.33 L511.60,304.41 L512.28,304.50 L512.96,304.58 L513.64,304.67 L514.32,304.75 L515.00,304.84 L515.68,304.92 L516.36,305.00 L517.04,305.08 L517.72,305.16 L518.40,305.24 L519.08,305.32 L519.76,305.40 L520.44,305.48 L521.12,305.56 L521.80,305.63 L522.48,305.71 L523.16,305.79 L523.84,305.86 L524.53,305.94 L525.21,306.01 L525.89,306.09 L526.57,306.16 L527.25,306.23 L527.93,306.30 L528.61,306.38 L529.29,306.45 L529.97,306.52 L530.65,306.59 L531.33,306.66 L532.01,306.73 L532.69,306.79 L533.37,306.86 L534.05,306.93 L534.73,307.00 L535.41,307.06 L536.09,307.13 L536.77,307.19 L537.45,307.26 L538.13,307.32 L538.81,307.38 L539.49,307.45 L540.17,307.51 L540.85,307.57 L541.53,307.63 L542.21,307.69 L542.89,307.75 L543.57,307.81 L544.25,307.87 L544.93,307.93 L545.61,307.99 L546.29,308.04 L546.97,308.10 L547.65,308.16 L548.33,308.21 L549.01,308.27 L549.70,308.32 L550.38,308.38 L551.06,308.43 L551.74,308.49 L552.42,308.54 L553.10,308.59 L553.78,308.64 L554.46,308.69 L555.14,308.75 L555.82,308.80 L556.50,308.85 L557.18,308.90 L557.86,308.94 L558.54,308.99 L559.22,309.04 L559.90,309.09 L560.58,309.14 L561.26,309.18 L561.94,309.23 L562.62,309.27 L563.30,309.32 L563.98,309.36 L564.66,309.41 L565.34,309.45 L566.02,309.50 L566.70,309.54 L567.38,309.58 L568.06,309.62 L568.74,309.67 L569.42,309.71 L570.10,309.75 L570.78,309.79 L571.46,309.83 L572.14,309.87 L572.82,309.91 L573.50,309.95 L574.19,309.99 L574.87,310.02 L575.55,310.06 L576.23,310.10 L576.91,310.13 L577.59,310.17 L578.27,310.21 L578.95,310.24 L579.63,310.28 L580.31,310.31 L580.99,310.35 L581.67,310.38 L582.35,310.41 L583.03,310.45 L583.71,310.48 L584.39,310.51 L585.07,310.54 L585.75,310.58 L586.43,310.61 L587.11,310.64 L587.79,310.67 L588.47,310.70 L589.15,310.73 L589.83,310.76 L590.51,310.79 L591.19,310.82 L591.87,310.85 L592.55,310.87 L593.23,310.90 L593.91,310.93 L594.59,310.96 L595.27,310.98 L595.95,311.01 L596.63,311.04 L597.31,311.06 L597.99,311.09 L598.67,311.11 L599.36,311.14 L600.04,311.16 L600.72,311.19 L601.40,311.21 L602.08,311.23 L602.76,311.26 L603.44,311.28 L604.12,311.30 L604.80,311.32 L605.48,311.35 L606.16,311.37 L606.84,311.39 L607.52,311.41 L608.20,311.43 L608.88,311.45 L609.56,311.47 L610.24,311.49 L610.92,311.51 L611.60,311.53 L612.28,311.55 L612.96,311.57 L613.64,311.59 L614.32,311.61 L615.00,311.63 L615.68,311.65 L616.36,311.66 L617.04,311.68 L617.72,311.70 L618.40,311.72 L619.08,311.73 L619.76,311.75 L620.44,311.77 L621.12,311.78 L621.80,311.80 L622.48,311.81 L623.16,311.83 L623.84,311.84 L624.53,311.86 L625.21,311.87 L625.89,311.89 L626.57,311.90 L627.25,311.92 L627.93,311.93 L628.61,311.94 L629.29,311.96 L629.97,311.97 L630.65,311.98 L631.33,312.00 L632.01,312.01 L632.69,312.02 L633.37,312.03 L634.05,312.05 L634.73,312.06 L635.41,312.07 L636.09,312.08 L636.77,312.09 L637.45,312.11 L638.13,312.12 L638.81,312.13 L639.49,312.14 L640.17,312.15 L640.85,312.16 L641.53,312.17 L642.21,312.18 L642.89,312.19 L643.57,312.20 L644.25,312.21 L644.93,312.22 L645.61,312.23 L646.29,312.24 L646.97,312.25 L647.65,312.25 L648.33,312.26 L649.01,312.27 L649.70,312.28 L650.38,312.29 L651.06,312.30 L651.74,312.30 L652.42,312.31 L653.10,312.32 L653.78,312.33 L654.46,312.33 L655.14,312.34 L655.82,312.35 L656.50,312.36 L657.18,312.36 L657.86,312.37 L658.54,312.38 L659.22,312.38 L659.90,312.39 L660.58,312.40 L661.26,312.40 L661.94,312.41 L662.62,312.41 L663.30,312.42 L663.98,312.43 L664.66,312.43 L665.34,312.44 L666.02,312.44 L666.70,312.45 L667.38,312.45 L668.06,312.46 L668.74,312.46 L669.42,312.47 L670.10,312.47 L670.78,312.48 L671.46,312.48 L672.14,312.49 L672.82,312.49 L673.50,312.50 L674.19,312.50 L674.87,312.51 L675.55,312.51 L676.23,312.51 L676.91,312.52 L677.59,312.52 L678.27,312.53 L678.95,312.53 L679.63,312.53 L680.31,312.54 L680.99,312.54 L681.67,312.54 L682.35,312.55 L683.03,312.55 L683.71,312.55 L686.43,312.57 L689.15,312.58 L691.87,312.59 L694.59,312.60 L697.31,312.61 L700.04,312.62 L702.76,312.63 L705.48,312.63 L708.20,312.64 L710.92,312.64 L713.64,312.65 L716.36,312.65 L719.08,312.66 L721.80,312.66 L724.53,312.67 L727.25,312.67 L729.97,312.67 L732.69,312.68 L735.41,312.68 L738.13,312.68 L740.85,312.68 L743.57,312.68 L746.29,312.69 L749.01,312.69 L751.74,312.69 L754.46,312.69 L757.18,312.69 L759.90,312.69 L762.62,312.69 L765.34,312.69 L768.06,312.69 L770.78,312.70 L773.50,312.70 L776.23,312.70 L778.95,312.70 L781.67,312.70 L784.39,312.70 L787.11,312.70 L789.83,312.70 L792.55,312.70 L795.27,312.70 L797.99,312.70 L800.72,312.70 L803.44,312.70 L806.16,312.70 L808.47,312.70" stroke="#ff0000" stroke-dasharray="7.06 7.56" stroke-dashoffset="0.8"/>
<path d="M411.60,261.03 L412.28,261.42 L412.96,261.81 L413.64,262.20 L414.32,262.59 L415.00,262.97 L415.68,263.35 L416.36,263.73 L417.04,264.11 L417.72,264.49 L418.40,264.86 L419.08,265.24 L419.76,265.61 L420.44,265.97 L421.12,266.34 L421.80,266.70 L422.48,267.07 L423.16,267.43 L423.84,267.78 L424.53,268.14 L425.21,268.49 L425.89,268.84 L426.57,269.19 L427.25,269.54 L427.93,269.89 L428.61,270.23 L429.29,270.57 L429.97,270.91 L430.65,271.25 L431.33,271.59 L432.01,271.92 L432.69,272.25 L433.37,272.58 L434.05,272.91 L434.73,273.24 L435.41,273.56 L436.09,273.89 L436.77,274.21 L437.45,274.52 L438.13,274.84 L438.81,275.16 L439.49,275.47 L440.17,275.78 L440.85,276.09 L441.53,276.40 L442.21,276.70 L442.89,277.01 L443.57,277.31 L444.25,277.61 L444.93,277.91 L445.61,278.20 L446.29,278.50 L446.97,278.79 L447.65,279.08 L448.33,279.37 L449.01,279.66 L449.70,279.94 L450.38,280.23 L451.06,280.51 L451.74,280.79 L452.42,281.07 L453.10,281.34 L453.78,281.62 L454.46,281.89 L455.14,282.16 L455.82,282.43 L456.50,282.70 L457.18,282.97 L457.86,283.23 L458.54,283.50 L459.22,283.76 L459.90,284.02 L460.58,284.27 L461.26,284.53 L461.94,284.78 L462.62,285.04 L463.30,285.29 L463.98,285.54 L464.66,285.78 L465.34,286.03 L466.02,286.27 L466.70,286.52 L467.38,286.76 L468.06,287.00 L468.74,287.24 L469.42,287.47 L470.10,287.71 L470.78,287.94 L471.46,288.17 L472.14,288.40 L472.82,288.63 L473.50,288.85 L474.19,289.08 L474.87,289.30 L475.55,289.53 L476.23,289.75 L476.91,289.96 L477.59,290.18 L478.27,290.40 L478.95,290.61 L479.63,290.82 L480.31,291.03 L480.99,291.24 L481.67,291.45 L482.35,291.66 L483.03,291.86 L483.71,292.07 L484.39,292.27 L485.07,292.47 L485.75,292.67 L486.43,292.87 L487.11,293.06 L487.79,293.26 L488.47,293.45 L489.15,293.64 L489.83,293.83 L490.51,294.02 L491.19,294.21 L491.87,294.39 L492.55,294.58 L493.23,294.76 L493.91,294.94 L494.59,295.13 L495.27,295.30 L495.95,295.48 L496.63,295.66 L497.31,295.83 L497.99,296.01 L498.67,296.18 L499.36,296.35 L500.04,296.52 L500.72,296.69 L501.40,296.85 L502.08,297.02 L502.76,297.18 L503.44,297.35 L504.12,297.51 L504.80,297.67 L505.48,297.83 L506.16,297.99 L506.84,298.14 L507.52,298.30 L508.20,298.45 L508.88,298.60 L509.56,298.75 L510.24,298.91 L510.92,299.05 L511.60,299.20 L512.28,299.35 L512.96,299.49 L513.64,299.64 L514.32,299.78 L515.00,299.92 L515.68,300.06 L516.36,300.20 L517.04,300.34 L517.72,300.48 L518.40,300.61 L519.08,300.75 L519.76,300.88 L520.44,301.01 L521.12,301.14 L521.80,301.27 L522.48,301.40 L523.16,301.53 L523.84,301.65 L524.53,301.78 L525.21,301.90 L525.89,302.03 L526.57,302.15 L527.25,302.27 L527.93,302.39 L528.61,302.51 L529.29,302.63 L529.97,302.74 L530.65,302.86 L531.33,302.97 L532.01,303.09 L532.69,303.20 L533.37,303.31 L534.05,303.42 L534.73,303.53 L535.41,303.64 L536.09,303.74 L536.77,303.85 L537.45,303.96 L538.13,304.06 L538.81,304.16 L539.49,304.27 L540.17,304.37 L540.85,304.47 L541.53,304.57 L542.21,304.67 L542.89,304.76 L543.57,304.86 L544.25,304.96 L544.93,305.05 L545.61,305.14 L546.29,305.24 L546.97,305.33 L547.65,305.42 L548.33,305.51 L549.01,305.60 L549.70,305.69 L550.38,305.77 L551.06,305.86 L551.74,305.95 L552.42,306.03 L553.10,306.12 L553.78,306.20 L554.46,306.28 L555.14,306.36 L555.82,306.44 L556.50,306.52 L557.18,306.60 L557.86,306.68 L558.54,306.76 L559.22,306.83 L559.90,306.91 L560.58,306.98 L561.26,307.06 L561.94,307.13 L562.62,307.20 L563.30,307.28 L563.98,307.35 L564.66,307.42 L565.34,307.49 L566.02,307.56 L566.70,307.62 L567.38,307.69 L568.06,307.76 L568.74,307.82 L569.42,307.89 L570.10,307.95 L570.78,308.02 L571.46,308.08 L572.14,308.14 L572.82,308.20 L573.50,308.27 L574.19,308.33 L574.87,308.39 L575.55,308.44 L576.23,308.50 L576.91,308.56 L577.59,308.62 L578.27,308.67 L578.95,308.73 L579.63,308.78 L580.31,308.84 L580.99,308.89 L581.67,308.95 L582.35,309.00 L583.03,309.05 L583.71,309.10 L584.39,309.15 L585.07,309.20 L585.75,309.25 L586.43,309.30 L587.11,309.35 L587.79,309.40 L588.47,309.44 L589.15,309.49 L589.83,309.54 L590.51,309.58 L591.19,309.63 L591.87,309.67 L592.55,309.72 L593.23,309.76 L593.91,309.80 L594.59,309.85 L595.27,309.89 L595.95,309.93 L596.63,309.97 L597.31,310.01 L597.99,310.05 L598.67,310.09 L599.36,310.13 L600.04,310.17 L600.72,310.20 L601.40,310.24 L602.08,310.28 L602.76,310.31 L603.44,310.35 L604.12,310.39 L604.80,310.42 L605.48,310.46 L606.16,310.49 L606.84,310.52 L607.52,310.56 L608.20,310.59 L608.88,310.62 L609.56,310.65 L610.24,310.69 L610.92,310.72 L611.60,310.75 L612.28,310.78 L612.96,310.81 L613.64,310.84 L614.32,310.87 L615.00,310.90 L615.68,310.92 L616.36,310.95 L617.04,310.98 L617.72,311.01 L618.40,311.03 L619.08,311.06 L619.76,311.09 L620.44,311.11 L621.12,311.14 L621.80,311.16 L622.48,311.19 L623.16,311.21 L623.84,311.24 L624.53,311.26 L625.21,311.28 L625.89,311.31 L626.57,311.33 L627.25,311.35 L627.93,311.37 L628.61,311.40 L629.29,311.42 L629.97,311.44 L630.65,311.46 L631.33,311.48 L632.01,311.50 L632.69,311.52 L633.37,311.54 L634.05,311.56 L634.73,311.58 L635.41,311.60 L636.09,311.62 L636.77,311.64 L637.45,311.65 L638.13,311.67 L638.81,311.69 L639.49,311.71 L640.17,311.72 L640.85,311.74 L641.53,311.76 L642.21,311.77 L642.89,311.79 L643.57,311.81 L644.25,311.82 L644.93,311.84 L645.61,311.85 L646.29,311.87 L646.97,311.88 L647.65,311.89 L648.33,311.91 L649.01,311.92 L649.70,311.94 L650.38,311.95 L651.06,311.96 L651.74,311.98 L652.42,311.99 L653.10,312.00 L653.78,312.02 L654.46,312.03 L655.14,312.04 L655.82,312.05 L656.50,312.06 L657.18,312.07 L657.86,312.09 L658.54,312.10 L659.22,312.11 L659.90,312.12 L660.58,312.13 L661.26,312.14 L661.94,312.15 L662.62,312.16 L663.30,312.17 L663.98,312.18 L664.66,312.19 L665.34,312.20 L666.02,312.21 L666.70,312.22 L667.38,312.23 L668.06,312.24 L668.74,312.25 L669.42,312.25 L670.10,312.26 L670.78,312.27 L671.46,312.28 L672.14,312.29 L672.82,312.29 L673.50,312.30 L674.19,312.31 L674.87,312.32 L675.55,312.33 L676.23,312.33 L676.91,312.34 L677.59,312.35 L678.27,312.35 L678.95,312.36 L679.63,312.37 L680.31,312.37 L680.99,312.38 L681.67,312.39 L682.35,312.39 L683.03,312.40 L683.71,312.40 L686.43,312.43 L689.15,312.45 L691.87,312.47 L694.59,312.49 L697.31,312.50 L700.04,312.52 L702.76,312.53 L705.48,312.55 L708.20,312.56 L710.92,312.57 L713.64,312.58 L716.36,312.59 L719.08,312.60 L721.80,312.61 L724.53,312.62 L727.25,312.63 L729.97,312.63 L732.69,312.64 L735.41,312.64 L738.13,312.65 L740.85,312.65 L743.57,312.66 L746.29,312.66 L749.01,312.67 L751.74,312.67 L754.46,312.67 L757.18,312.67 L759.90,312.68 L762.62,312.68 L765.34,312.68 L768.06,312.68 L770.78,312.68 L773.50,312.69 L776.23,312.69 L778.95,312.69 L781.67,312.69 L784.39,312.69 L787.11,312.69 L789.83,312.69 L792.55,312.69 L795.27,312.69 L797.99,312.69 L800.72,312.70 L803.44,312.70 L806.16,312.70 L808.47,312.70" stroke="#0000ff" stroke-dasharray="7.08 7.58" stroke-dashoffset="0"/>
<path d="M411.60,221.97 L412.28,222.56 L412.96,223.16 L413.64,223.76 L414.32,224.36 L415.00,224.96 L415.68,225.55 L416.36,226.15 L417.04,226.75 L417.72,227.34 L418.40,227.94 L419.08,228.53 L419.76,229.12 L420.44,229.72 L421.12,230.31 L421.80,230.90 L422.48,231.49 L423.16,232.08 L423.84,232.67 L424.53,233.26 L425.21,233.84 L425.89,234.43 L426.57,235.01 L427.25,235.60 L427.93,236.18 L428.61,236.76 L429.29,237.34 L429.97,237.91 L430.65,238.49 L431.33,239.06 L432.01,239.64 L432.69,240.21 L433.37,240.78 L434.05,241.35 L434.73,241.91 L435.41,242.48 L436.09,243.04 L436.77,243.60 L437.45,244.16 L438.13,244.72 L438.81,245.27 L439.49,245.82 L440.17,246.38 L440.85,246.93 L441.53,247.47 L442.21,248.02 L442.89,248.56 L443.57,249.10 L444.25,249.64 L444.93,250.18 L445.61,250.71 L446.29,251.24 L446.97,251.77 L447.65,252.30 L448.33,252.82 L449.01,253.35 L449.70,253.87 L450.38,254.38 L451.06,254.90 L451.74,255.41 L452.42,255.92 L453.10,256.43 L453.78,256.93 L454.46,257.44 L455.14,257.94 L455.82,258.44 L456.50,258.93 L457.18,259.42 L457.86,259.91 L458.54,260.40 L459.22,260.88 L459.90,261.36 L460.58,261.84 L461.26,262.32 L461.94,262.79 L462.62,263.26 L463.30,263.73 L463.98,264.20 L464.66,264.66 L465.34,265.12 L466.02,265.57 L466.70,266.03 L467.38,266.48 L468.06,266.93 L468.74,267.37 L469.42,267.82 L470.10,268.26 L470.78,268.69 L471.46,269.13 L472.14,269.56 L472.82,269.99 L473.50,270.41 L474.19,270.83 L474.87,271.25 L475.55,271.67 L476.23,272.08 L476.91,272.50 L477.59,272.90 L478.27,273.31 L478.95,273.71 L479.63,274.11 L480.31,274.51 L480.99,274.90 L481.67,275.29 L482.35,275.68 L483.03,276.06 L483.71,276.45 L484.39,276.83 L485.07,277.20 L485.75,277.58 L486.43,277.95 L487.11,278.31 L487.79,278.68 L488.47,279.04 L489.15,279.40 L489.83,279.76 L490.51,280.11 L491.19,280.46 L491.87,280.81 L492.55,281.15 L493.23,281.50 L493.91,281.83 L494.59,282.17 L495.27,282.50 L495.95,282.84 L496.63,283.16 L497.31,283.49 L497.99,283.81 L498.67,284.13 L499.36,284.45 L500.04,284.76 L500.72,285.07 L501.40,285.38 L502.08,285.69 L502.76,285.99 L503.44,286.29 L504.12,286.59 L504.80,286.89 L505.48,287.18 L506.16,287.47 L506.84,287.76 L507.52,288.04 L508.20,288.33 L508.88,288.61 L509.56,288.88 L510.24,289.16 L510.92,289.43 L511.60,289.70 L512.28,289.97 L512.96,290.23 L513.64,290.49 L514.32,290.75 L515.00,291.01 L515.68,291.26 L516.36,291.52 L517.04,291.76 L517.72,292.01 L518.40,292.26 L519.08,292.50 L519.76,292.74 L520.44,292.98 L521.12,293.21 L521.80,293.45 L522.48,293.68 L523.16,293.90 L523.84,294.13 L524.53,294.35 L525.21,294.58 L525.89,294.79 L526.57,295.01 L527.25,295.23 L527.93,295.44 L528.61,295.65 L529.29,295.86 L529.97,296.06 L530.65,296.27 L531.33,296.47 L532.01,296.67 L532.69,296.87 L533.37,297.06 L534.05,297.26 L534.73,297.45 L535.41,297.64 L536.09,297.82 L536.77,298.01 L537.45,298.19 L538.13,298.37 L538.81,298.55 L539.49,298.73 L540.17,298.91 L540.85,299.08 L541.53,299.25 L542.21,299.42 L542.89,299.59 L543.57,299.75 L544.25,299.92 L544.93,300.08 L545.61,300.24 L546.29,300.40 L546.97,300.56 L547.65,300.71 L548.33,300.87 L549.01,301.02 L549.70,301.17 L550.38,301.32 L551.06,301.46 L551.74,301.61 L552.42,301.75 L553.10,301.89 L553.78,302.03 L554.46,302.17 L555.14,302.31 L555.82,302.44 L556.50,302.58 L557.18,302.71 L557.86,302.84 L558.54,302.97 L559.22,303.10 L559.90,303.22 L560.58,303.35 L561.26,303.47 L561.94,303.59 L562.62,303.71 L563.30,303.83 L563.98,303.95 L564.66,304.06 L565.34,304.18 L566.02,304.29 L566.70,304.40 L567.38,304.51 L568.06,304.62 L568.74,304.73 L569.42,304.84 L570.10,304.94 L570.78,305.04 L571.46,305.15 L572.14,305.25 L572.82,305.35 L573.50,305.45 L574.19,305.54 L574.87,305.64 L575.55,305.74 L576.23,305.83 L576.91,305.92 L577.59,306.02 L578.27,306.11 L578.95,306.20 L579.63,306.28 L580.31,306.37 L580.99,306.46 L581.67,306.54 L582.35,306.63 L583.03,306.71 L583.71,306.79 L584.39,306.87 L585.07,306.95 L585.75,307.03 L586.43,307.11 L587.11,307.18 L587.79,307.26 L588.47,307.34 L589.15,307.41 L589.83,307.48 L590.51,307.55 L591.19,307.62 L591.87,307.69 L592.55,307.76 L593.23,307.83 L593.91,307.90 L594.59,307.97 L595.27,308.03 L595.95,308.10 L596.63,308.16 L597.31,308.22 L597.99,308.29 L598.67,308.35 L599.36,308.41 L600.04,308.47 L600.72,308.53 L601.40,308.59 L602.08,308.64 L602.76,308.70 L603.44,308.76 L604.12,308.81 L604.80,308.87 L605.48,308.92 L606.16,308.97 L606.84,309.03 L607.52,309.08 L608.20,309.13 L608.88,309.18 L609.56,309.23 L610.24,309.28 L610.92,309.33 L611.60,309.37 L612.28,309.42 L612.96,309.47 L613.64,309.51 L614.32,309.56 L615.00,309.60 L615.68,309.65 L616.36,309.69 L617.04,309.73 L617.72,309.77 L618.40,309.82 L619.08,309.86 L619.76,309.90 L620.44,309.94 L621.12,309.98 L621.80,310.01 L622.48,310.05 L623.16,310.09 L623.84,310.13 L624.53,310.16 L625.21,310.20 L625.89,310.24 L626.57,310.27 L627.25,310.31 L627.93,310.34 L628.61,310.37 L629.29,310.41 L629.97,310.44 L630.65,310.47 L631.33,310.50 L632.01,310.54 L632.69,310.57 L633.37,310.60 L634.05,310.63 L634.73,310.66 L635.41,310.69 L636.09,310.72 L636.77,310.74 L637.45,310.77 L638.13,310.80 L638.81,310.83 L639.49,310.85 L640.17,310.88 L640.85,310.91 L641.53,310.93 L642.21,310.96 L642.89,310.98 L643.57,311.01 L644.25,311.03 L644.93,311.06 L645.61,311.08 L646.29,311.10 L646.97,311.13 L647.65,311.15 L648.33,311.17 L649.01,311.19 L649.70,311.22 L650.38,311.24 L651.06,311.26 L651.74,311.28 L652.42,311.30 L653.10,311.32 L653.78,311.34 L654.46,311.36 L655.14,311.38 L655.82,311.40 L656.50,311.42 L657.18,311.44 L657.86,311.45 L658.54,311.47 L659.22,311.49 L659.90,311.51 L660.58,311.52 L661.26,311.54 L661.94,311.56 L662.62,311.57 L663.30,311.59 L663.98,311.61 L664.66,311.62 L665.34,311.64 L666.02,311.65 L666.70,311.67 L667.38,311.68 L668.06,311.70 L668.74,311.71 L669.42,311.73 L670.10,311.74 L670.78,311.75 L671.46,311.77 L672.14,311.78 L672.82,311.80 L673.50,311.81 L674.19,311.82 L674.87,311.83 L675.55,311.85 L676.23,311.86 L676.91,311.87 L677.59,311.88 L678.27,311.89 L678.95,311.91 L679.63,311.92 L680.31,311.93 L680.99,311.94 L681.67,311.95 L682.35,311.96 L683.03,311.97 L683.71,311.98 L686.43,312.02 L689.15,312.06 L691.87,312.10 L694.59,312.13 L697.31,312.16 L700.04,312.19 L702.76,312.22 L705.48,312.25 L708.20,312.27 L710.92,312.30 L713.64,312.32 L716.36,312.34 L719.08,312.36 L721.80,312.38 L724.53,312.40 L727.25,312.41 L729.97,312.43 L732.69,312.44 L735.41,312.46 L738.13,312.47 L740.85,312.48 L743.57,312.49 L746.29,312.51 L749.01,312.52 L751.74,312.53 L754.46,312.54 L757.18,312.54 L759.90,312.55 L762.62,312.56 L765.34,312.57 L768.06,312.57 L770.78,312.58 L773.50,312.59 L776.23,312.59 L778.95,312.60 L781.67,312.60 L784.39,312.61 L787.11,312.61 L789.83,312.62 L792.55,312.62 L795.27,312.62 L797.99,312.63 L800.72,312.63 L803.44,312.63 L806.16,312.64 L808.47,312.64" stroke="#000" stroke-dasharray="7.085 7.585" stroke-dashoffset="1.6"/>
<path d="M411.60,43.15 L412.28,45.00 L412.96,46.84 L413.64,48.68 L414.32,50.52 L415.00,52.35 L415.68,54.18 L416.36,56.00 L417.04,57.81 L417.72,59.63 L418.40,61.43 L419.08,63.24 L419.76,65.03 L420.44,66.82 L421.12,68.61 L421.80,70.39 L422.48,72.17 L423.16,73.94 L423.84,75.70 L424.53,77.46 L425.21,79.21 L425.89,80.96 L426.57,82.70 L427.25,84.44 L427.93,86.16 L428.61,87.89 L429.29,89.61 L429.97,91.32 L430.65,93.02 L431.33,94.72 L432.01,96.41 L432.69,98.10 L433.37,99.78 L434.05,101.45 L434.73,103.12 L435.41,104.78 L436.09,106.43 L436.77,108.08 L437.45,109.72 L438.13,111.35 L438.81,112.98 L439.49,114.60 L440.17,116.21 L440.85,117.82 L441.53,119.41 L442.21,121.01 L442.89,122.59 L443.57,124.17 L444.25,125.74 L444.93,127.30 L445.61,128.86 L446.29,130.40 L446.97,131.95 L447.65,133.48 L448.33,135.01 L449.01,136.52 L449.70,138.04 L450.38,139.54 L451.06,141.04 L451.74,142.53 L452.42,144.01 L453.10,145.48 L453.78,146.95 L454.46,148.40 L455.14,149.86 L455.82,151.30 L456.50,152.73 L457.18,154.16 L457.86,155.58 L458.54,156.99 L459.22,158.40 L459.90,159.79 L460.58,161.18 L461.26,162.56 L461.94,163.94 L462.62,165.30 L463.30,166.66 L463.98,168.01 L464.66,169.35 L465.34,170.68 L466.02,172.01 L466.70,173.33 L467.38,174.64 L468.06,175.94 L468.74,177.23 L469.42,178.52 L470.10,179.80 L470.78,181.06 L471.46,182.33 L472.14,183.58 L472.82,184.83 L473.50,186.06 L474.19,187.29 L474.87,188.52 L475.55,189.73 L476.23,190.94 L476.91,192.13 L477.59,193.32 L478.27,194.51 L478.95,195.68 L479.63,196.85 L480.31,198.00 L480.99,199.15 L481.67,200.30 L482.35,201.43 L483.03,202.56 L483.71,203.67 L484.39,204.79 L485.07,205.89 L485.75,206.98 L486.43,208.07 L487.11,209.15 L487.79,210.22 L488.47,211.28 L489.15,212.34 L489.83,213.39 L490.51,214.43 L491.19,215.46 L491.87,216.48 L492.55,217.50 L493.23,218.51 L493.91,219.51 L494.59,220.50 L495.27,221.49 L495.95,222.47 L496.63,223.44 L497.31,224.40 L497.99,225.35 L498.67,226.30 L499.36,227.24 L500.04,228.17 L500.72,229.10 L501.40,230.02 L502.08,230.93 L502.76,231.83 L503.44,232.73 L504.12,233.61 L504.80,234.49 L505.48,235.37 L506.16,236.23 L506.84,237.09 L507.52,237.94 L508.20,238.79 L508.88,239.63 L509.56,240.46 L510.24,241.28 L510.92,242.09 L511.60,242.90 L512.28,243.70 L512.96,244.50 L513.64,245.29 L514.32,246.07 L515.00,246.84 L515.68,247.61 L516.36,248.37 L517.04,249.12 L517.72,249.87 L518.40,250.61 L519.08,251.34 L519.76,252.07 L520.44,252.79 L521.12,253.50 L521.80,254.21 L522.48,254.90 L523.16,255.60 L523.84,256.28 L524.53,256.97 L525.21,257.64 L525.89,258.31 L526.57,258.97 L527.25,259.62 L527.93,260.27 L528.61,260.91 L529.29,261.55 L529.97,262.18 L530.65,262.80 L531.33,263.42 L532.01,264.03 L532.69,264.64 L533.37,265.24 L534.05,265.83 L534.73,266.42 L535.41,267.00 L536.09,267.57 L536.77,268.14 L537.45,268.71 L538.13,269.27 L538.81,269.82 L539.49,270.37 L540.17,270.91 L540.85,271.44 L541.53,271.98 L542.21,272.50 L542.89,273.02 L543.57,273.53 L544.25,274.04 L544.93,274.54 L545.61,275.04 L546.29,275.54 L546.97,276.02 L547.65,276.50 L548.33,276.98 L549.01,277.45 L549.70,277.92 L550.38,278.38 L551.06,278.84 L551.74,279.29 L552.42,279.74 L553.10,280.18 L553.78,280.61 L554.46,281.05 L555.14,281.47 L555.82,281.90 L556.50,282.31 L557.18,282.73 L557.86,283.14 L558.54,283.54 L559.22,283.94 L559.90,284.33 L560.58,284.72 L561.26,285.11 L561.94,285.49 L562.62,285.87 L563.30,286.24 L563.98,286.61 L564.66,286.97 L565.34,287.33 L566.02,287.69 L566.70,288.04 L567.38,288.38 L568.06,288.73 L568.74,289.07 L569.42,289.40 L570.10,289.73 L570.78,290.06 L571.46,290.38 L572.14,290.70 L572.82,291.02 L573.50,291.33 L574.19,291.64 L574.87,291.94 L575.55,292.24 L576.23,292.54 L576.91,292.83 L577.59,293.12 L578.27,293.40 L578.95,293.69 L579.63,293.96 L580.31,294.24 L580.99,294.51 L581.67,294.78 L582.35,295.04 L583.03,295.31 L583.71,295.56 L584.39,295.82 L585.07,296.07 L585.75,296.32 L586.43,296.56 L587.11,296.81 L587.79,297.05 L588.47,297.28 L589.15,297.51 L589.83,297.74 L590.51,297.97 L591.19,298.19 L591.87,298.42 L592.55,298.63 L593.23,298.85 L593.91,299.06 L594.59,299.27 L595.27,299.48 L595.95,299.68 L596.63,299.88 L597.31,300.08 L597.99,300.28 L598.67,300.47 L599.36,300.66 L600.04,300.85 L600.72,301.03 L601.40,301.22 L602.08,301.40 L602.76,301.58 L603.44,301.75 L604.12,301.92 L604.80,302.10 L605.48,302.26 L606.16,302.43 L606.84,302.59 L607.52,302.75 L608.20,302.91 L608.88,303.07 L609.56,303.23 L610.24,303.38 L610.92,303.53 L611.60,303.68 L612.28,303.82 L612.96,303.97 L613.64,304.11 L614.32,304.25 L615.00,304.39 L615.68,304.52 L616.36,304.66 L617.04,304.79 L617.72,304.92 L618.40,305.05 L619.08,305.17 L619.76,305.30 L620.44,305.42 L621.12,305.54 L621.80,305.66 L622.48,305.78 L623.16,305.90 L623.84,306.01 L624.53,306.12 L625.21,306.23 L625.89,306.34 L626.57,306.45 L627.25,306.55 L627.93,306.66 L628.61,306.76 L629.29,306.86 L629.97,306.96 L630.65,307.06 L631.33,307.16 L632.01,307.25 L632.69,307.34 L633.37,307.44 L634.05,307.53 L634.73,307.62 L635.41,307.71 L636.09,307.79 L636.77,307.88 L637.45,307.96 L638.13,308.04 L638.81,308.12 L639.49,308.20 L640.17,308.28 L640.85,308.36 L641.53,308.44 L642.21,308.51 L642.89,308.59 L643.57,308.66 L644.25,308.73 L644.93,308.80 L645.61,308.87 L646.29,308.94 L646.97,309.01 L647.65,309.07 L648.33,309.14 L649.01,309.20 L649.70,309.26 L650.38,309.33 L651.06,309.39 L651.74,309.45 L652.42,309.51 L653.10,309.56 L653.78,309.62 L654.46,309.68 L655.14,309.73 L655.82,309.79 L656.50,309.84 L657.18,309.89 L657.86,309.94 L658.54,309.99 L659.22,310.04 L659.90,310.09 L660.58,310.14 L661.26,310.19 L661.94,310.24 L662.62,310.28 L663.30,310.33 L663.98,310.37 L664.66,310.42 L665.34,310.46 L666.02,310.50 L666.70,310.54 L667.38,310.58 L668.06,310.62 L668.74,310.66 L669.42,310.70 L670.10,310.74 L670.78,310.78 L671.46,310.81 L672.14,310.85 L672.82,310.88 L673.50,310.92 L674.19,310.95 L674.87,310.99 L675.55,311.02 L676.23,311.05 L676.91,311.08 L677.59,311.11 L678.27,311.14 L678.95,311.17 L679.63,311.20 L680.31,311.23 L680.99,311.26 L681.67,311.29 L682.35,311.32 L683.03,311.34 L683.71,311.37 L686.43,311.47 L689.15,311.57 L691.87,311.66 L694.59,311.74 L697.31,311.81 L700.04,311.88 L702.76,311.95 L705.48,312.01 L708.20,312.06 L710.92,312.12 L713.64,312.16 L716.36,312.21 L719.08,312.25 L721.80,312.29 L724.53,312.32 L727.25,312.35 L729.97,312.38 L732.69,312.41 L735.41,312.43 L738.13,312.46 L740.85,312.48 L743.57,312.50 L746.29,312.51 L749.01,312.53 L751.74,312.55 L754.46,312.56 L757.18,312.57 L759.90,312.58 L762.62,312.59 L765.34,312.60 L768.06,312.61 L770.78,312.62 L773.50,312.63 L776.23,312.63 L778.95,312.64 L781.67,312.65 L784.39,312.65 L787.11,312.66 L789.83,312.66 L792.55,312.66 L795.27,312.67 L797.99,312.67 L800.72,312.67 L803.44,312.68 L806.16,312.68 L808.47,312.68" stroke="#00ff00" stroke-dasharray="7.08 7.58" stroke-dashoffset="0.2"/>
</g>
<g transform="scale(0.78,1)" class="tk"><text x="522.18" y="319.10" text-anchor="end">0</text><text x="522.18" y="275.91" text-anchor="end">0.05</text><text x="522.18" y="232.73" text-anchor="end">0.1</text><text x="522.18" y="189.54" text-anchor="end">0.15</text><text x="522.18" y="146.36" text-anchor="end">0.2</text><text x="522.18" y="103.17" text-anchor="end">0.25</text><text x="522.18" y="59.99" text-anchor="end">0.3</text><text x="522.18" y="16.80" text-anchor="end">0.35</text></g>
<g transform="scale(0.78,1)" class="tk"><text x="528.33" y="335.90" text-anchor="middle">0</text><text x="621.83" y="335.90" text-anchor="middle">1</text><text x="715.32" y="335.90" text-anchor="middle">2</text><text x="808.81" y="335.90" text-anchor="middle">3</text><text x="902.31" y="335.90" text-anchor="middle">4</text></g>
<text class="pl" x="356.1" y="13.1">(b)</text>
<text class="zeta" transform="translate(557.3,361.6) scale(0.8,1)" text-anchor="middle" font-style="italic">ζ</text>
<g class="sym" font-size="18px"><text transform="translate(366.3,180.0) scale(0.735,1) rotate(-90)" font-style="italic">θ</text><text transform="translate(371.0,170.4) scale(0.735,1) rotate(-90)" font-style="italic" font-size="12px">p</text><text transform="translate(366.2,157.9) scale(0.735,1) rotate(-90)">(</text><text transform="translate(366.2,151.9) scale(0.735,1) rotate(-90)" font-style="italic">ζ</text><text transform="translate(366.2,144.6) scale(0.735,1) rotate(-90)">)</text></g>
<g transform="scale(0.757,1)"><text class="ann" x="634.87" y="205.0">A = 0.1,0.2,0.3,0.4</text></g>
<path d="M431.80,302.00 L495.22,219.84" stroke="#444" stroke-width="0.9" fill="none"/><path d="M499.50,214.30 L496.67,225.00 L495.22,219.84 L489.86,219.75 Z" fill="#111"/>
</svg>
</body></html>
